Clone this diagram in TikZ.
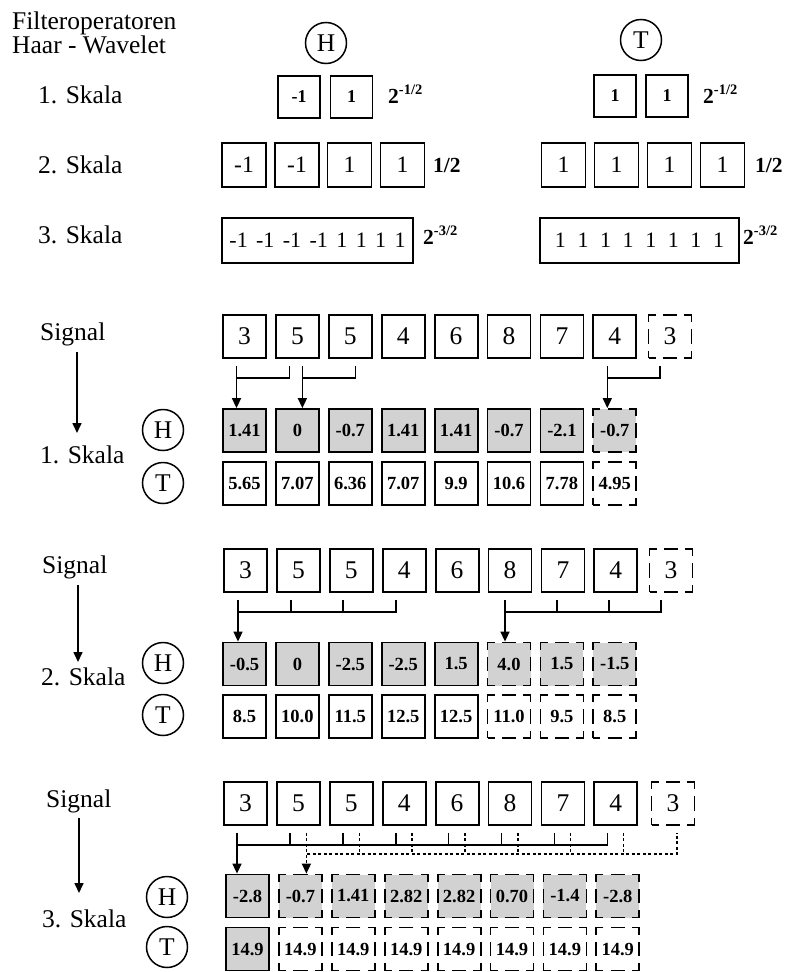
\documentclass[tikz,border=0pt]{standalone}
\usepackage{fontspec}
\setmainfont{Liberation Serif}
\usetikzlibrary{arrows.meta,calc}
\definecolor{cellgray}{RGB}{210,210,210}
\newcommand\mysup[1]{\raisebox{8.5pt}{\fontsize{14.5}{16}\bfseries\selectfont #1}}
\begin{document}
\begin{tikzpicture}[x=1pt,y=-1pt,
 lbl/.style={anchor=base west, inner sep=0pt, font=\fontsize{25.5}{30}\selectfont},
 circ/.style={circle, draw, line width=1.5pt, minimum size=41pt, inner sep=0pt, font=\fontsize{25.5}{30}\selectfont},
 cell/.style={draw, line width=1.8pt, minimum width=43pt, minimum height=43pt, inner sep=0pt, font=\fontsize{18.5}{20}\bfseries\selectfont},
 sig/.style={cell, font=\fontsize{25.5}{30}\selectfont},
 dsh/.style={dash pattern=on 14.33pt off 7.17pt, dash phase=7.17pt},
 gsol/.style={fill=cellgray},
 gdsh/.style={fill=cellgray, dsh},
 wsol/.style={},
 wdsh/.style={dsh},
 conn/.style={line width=1.6pt},
 arr/.style={conn, -{Triangle[length=10pt,width=9pt]}},
 dotln/.style={conn, dash pattern=on 3pt off 2.5pt},
 fone/.style={cell, minimum width=42pt, minimum height=42pt, font=\fontsize{18}{20}\bfseries\selectfont},
 ftwo/.style={cell, minimum width=44pt, minimum height=44pt, font=\fontsize{23.5}{26}\selectfont},
 flong/.style={draw, line width=1.8pt, minimum height=45pt, inner sep=0pt, font=\fontsize{22}{26}\selectfont},
 scl/.style={anchor=base west, inner sep=0pt, font=\fontsize{21.5}{24}\bfseries\selectfont}
]
\useasboundingbox (0,0) rectangle (793,972);

% ---------- header ----------
\node[lbl] (title1) at (12,29) {Filteroperatoren};
\node[lbl] (title2) at (12,53) {Haar - Wavelet};
\node[circ] (hH) at (326,43) {H};
\node[circ] (hT) at (641,40) {T};

\node[lbl] (sk1) at (38,103) {1. Skala};
\node[lbl] (sk2) at (38,173) {2. Skala};
\node[lbl] (sk3) at (38,243) {3. Skala};

% 1. Skala filters
\node[fone] (fh1a) at (299,97) {-1};
\node[fone] (fh1b) at (351.5,97) {1};
\node[scl] (fh1s) at (388,103) {2\mysup{-1/2}};
\node[fone] (ft1a) at (615,96) {1};
\node[fone] (ft1b) at (667,96) {1};
\node[scl] (ft1s) at (703,103) {2\mysup{-1/2}};

% 2. Skala filters
\node[ftwo] (fh2a) at (244,165) {-1};
\node[ftwo] (fh2b) at (297,165) {-1};
\node[ftwo] (fh2c) at (349.5,165) {1};
\node[ftwo] (fh2d) at (402.5,165) {1};
\node[scl] (fh2s) at (433,172) {1/2};
\node[ftwo] (ft2a) at (563.5,165) {1};
\node[ftwo] (ft2b) at (616.5,165) {1};
\node[ftwo] (ft2c) at (669.5,165) {1};
\node[ftwo] (ft2d) at (722.5,165) {1};
\node[scl] (ft2s) at (755,172) {1/2};

% 3. Skala filters
\node[flong, minimum width=191pt] (fh3) at (317.5,240.5)
  {-1\hspace{8.4pt}-1\hspace{8.4pt}-1\hspace{8.4pt}-1\hspace{8.4pt}1\hspace{8.4pt}1\hspace{8.4pt}1\hspace{8.4pt}1};
\node[scl] (fh3s) at (423,244) {2\mysup{-3/2}};
\node[flong, minimum width=199pt] (ft3) at (639.5,240.5)
  {1\hspace{11.6pt}1\hspace{11.6pt}1\hspace{11.6pt}1\hspace{11.6pt}1\hspace{11.6pt}1\hspace{11.6pt}1\hspace{11.6pt}1};
\node[scl] (ft3s) at (743,244) {2\mysup{-3/2}};

% ---------- section 1 ----------
\node[lbl] (sg1) at (40,340) {Signal};
\node[lbl] (sl1) at (40,463) {1. Skala};
\coordinate (a1s) at (77,352);
\coordinate (a1e) at (77,433);
\draw[arr] (a1s) -- (a1e);
\node[circ] (cH1) at (163,430) {H};
\node[circ] (cT1) at (163,483) {T};

\foreach \v [count=\i] in {3,5,5,4,6,8,7,4}
  \node[sig] (s1-\i) at ({244.5+52.9*(\i-1)},336.5) {\v};
\node[sig,dsh] (s1-9) at (670,336.5) {3};

\foreach \v/\st [count=\i] in {1.41/gsol,0/gsol,-0.7/gsol,1.41/gsol,1.41/gsol,-0.7/gsol,-2.1/gsol,-0.7/gdsh}
  \node[cell,\st] (h1-\i) at ({244.5+52.9*(\i-1)},430.5) {\v};
\foreach \v/\st [count=\i] in {5.65/wsol,7.07/wsol,6.36/wsol,7.07/wsol,9.9/wsol,10.6/wsol,7.78/wsol,4.95/wdsh}
  \node[cell,\st] (t1-\i) at ({244.5+52.9*(\i-1)},483.5) {\v};

\coordinate (k1a) at ($(s1-1.south)+(-8,7)$);
\coordinate (k1b) at ($(s1-2.south)+(-8,7)$);
\draw[conn] (k1b) |- ($(k1a)+(0,12)$);
\draw[arr] (k1a) -- (k1a |- h1-1.north);
\coordinate (k1c) at ($(s1-2.south)+(5,7)$);
\coordinate (k1d) at ($(s1-3.south)+(5,7)$);
\draw[conn] (k1d) |- ($(k1c)+(0,12)$);
\draw[arr] (k1c) -- (k1c |- h1-2.north);
\coordinate (k1e) at ($(s1-8.south)+(-7.5,7)$);
\coordinate (k1f) at ($(s1-9.south)+(-10,7)$);
\draw[conn] (k1f) |- ($(k1e)+(0,12)$);
\draw[arr] (k1e) -- (k1e |- h1-8.north);

% ---------- section 2 ----------
\node[lbl] (sg2) at (42,573) {Signal};
\node[lbl] (sl2) at (41,685) {2. Skala};
\coordinate (a2s) at (78,585);
\coordinate (a2e) at (78,662);
\draw[arr] (a2s) -- (a2e);
\node[circ] (cH2) at (163,663) {H};
\node[circ] (cT2) at (163,715) {T};

\foreach \v [count=\i] in {3,5,5,4,6,8,7,4}
  \node[sig] (s2-\i) at ({245.5+52.9*(\i-1)},570.5) {\v};
\node[sig,dsh] (s2-9) at (671,570.5) {3};

\foreach \v/\st [count=\i] in {-0.5/gsol,0/gsol,-2.5/gsol,-2.5/gsol,1.5/gsol,4.0/gdsh,1.5/gdsh,-1.5/gdsh}
  \node[cell,\st] (h2-\i) at ({244.5+52.9*(\i-1)},664) {\v};
\foreach \v/\st [count=\i] in {8.5/wsol,10.0/wsol,11.5/wsol,12.5/wsol,12.5/wsol,11.0/wdsh,9.5/wdsh,8.5/wdsh}
  \node[cell,\st] (t2-\i) at ({244.5+52.9*(\i-1)},716.5) {\v};

\foreach \i/\o in {1/-7.5,2/-7.5,3/-8.5,4/-8.5,6/-5,7/-6,8/-7,9/-10}
  \coordinate (k2-\i) at ($(s2-\i.south)+(\o,7)$);
\draw[conn] (k2-1) -- ++(0,12) -| (k2-4);
\draw[conn] (k2-2) -- ++(0,12);
\draw[conn] (k2-3) -- ++(0,12);
\draw[arr] (k2-1) -- (k2-1 |- h2-1.north);
\draw[conn] (k2-6) -- ++(0,12) -| (k2-9);
\draw[conn] (k2-7) -- ++(0,12);
\draw[conn] (k2-8) -- ++(0,12);
\draw[arr] (k2-6) -- (k2-6 |- h2-6.north);

% ---------- section 3 ----------
\node[lbl] (sg3) at (46,807) {Signal};
\node[lbl] (sl3) at (42,927) {3. Skala};
\coordinate (a3s) at (79,818);
\coordinate (a3e) at (79,893);
\draw[arr] (a3s) -- (a3e);
\node[circ] (cH3) at (167,897) {H};
\node[circ] (cT3) at (167,947) {T};

\foreach \v [count=\i] in {3,5,5,4,6,8,7,4}
  \node[sig] (s3-\i) at ({245.5+52.9*(\i-1)},803.5) {\v};
\node[sig,dsh] (s3-9) at (673,803.5) {3};

\foreach \v/\st [count=\i] in {-2.8/gsol,-0.7/gdsh,1.41/gdsh,2.82/gdsh,2.82/gdsh,0.70/gdsh,-1.4/gdsh,-2.8/gdsh}
  \node[cell,\st] (h3-\i) at ({247.5+52.9*(\i-1)},896) {\v};
\foreach \v/\st [count=\i] in {14.9/gsol,14.9/wdsh,14.9/wdsh,14.9/wdsh,14.9/wdsh,14.9/wdsh,14.9/wdsh,14.9/wdsh}
  \node[cell,\st] (t3-\i) at ({247.5+52.9*(\i-1)},949) {\v};

\foreach \i in {1,...,8}
  \coordinate (k3-\i) at ($(s3-\i.south)+(-8.5,7)$);
\foreach \i/\o in {2/8,3/8,4/8,5/8,6/8,7/7.5,8/7.5,9/4}
  \coordinate (d3-\i) at ($(s3-\i.south)+(\o,7)$);

\draw[dotln] (d3-2) -- ++(0,21) -| (d3-9);
\foreach \i in {3,...,8}
  \draw[dotln] (d3-\i) -- ++(0,21);
\draw[dotln,-{Triangle[length=10pt,width=9pt]}] (d3-2) -- (d3-2 |- h3-2.north);

\draw[conn] (k3-1) -- ++(0,12) -| (k3-8);
\foreach \i in {2,...,7}
  \draw[conn] (k3-\i) -- ++(0,12);
\draw[arr] (k3-1) -- (k3-1 |- h3-1.north);
\end{tikzpicture}
\end{document}
